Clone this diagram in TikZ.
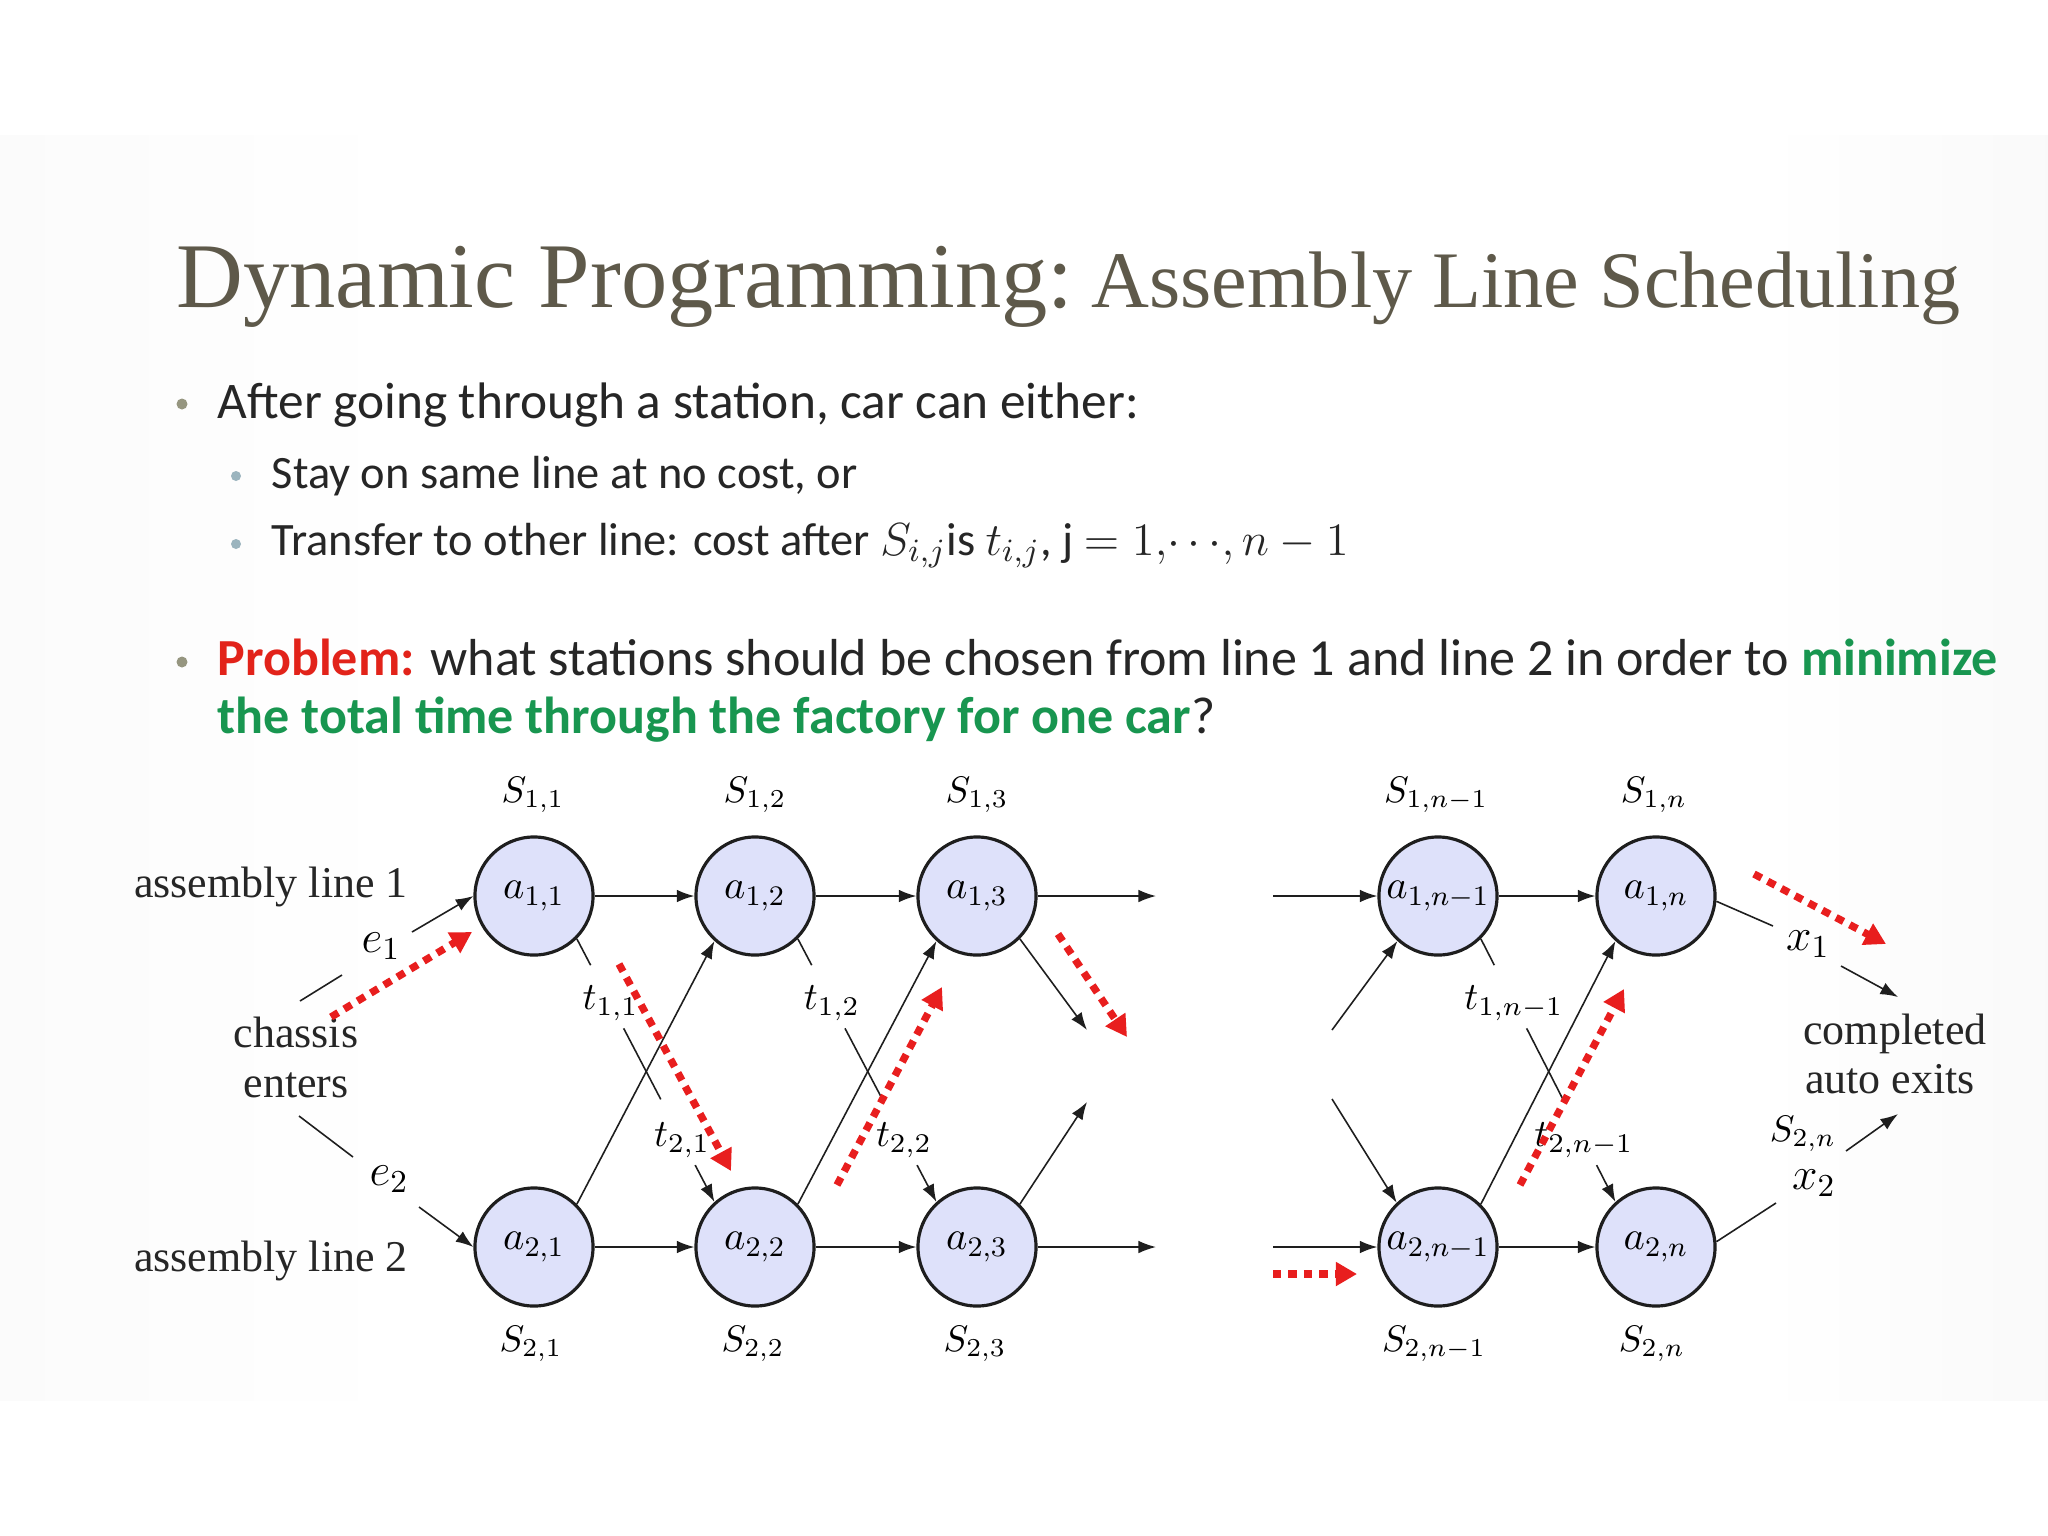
\RequirePackage{fix-cm}
\documentclass[tikz,border=0pt]{standalone}
\usepackage[no-math]{fontspec}
\usetikzlibrary{arrows.meta,calc}
\newfontfamily\bodyfont{Carlito}
\newfontfamily\serfont{Liberation Serif}
\definecolor{titlecol}{RGB}{94,89,74}
\definecolor{txt}{RGB}{38,38,38}
\definecolor{bulA}{RGB}{150,150,128}
\definecolor{bulB}{RGB}{155,180,190}
\definecolor{probred}{RGB}{226,35,26}
\definecolor{mingreen}{RGB}{24,150,80}
\definecolor{nodefill}{RGB}{222,225,250}
\definecolor{dotred}{RGB}{232,30,30}
\definecolor{linecol}{RGB}{30,30,30}
\pgfdeclarehorizontalshading{panelsh}{100bp}{color(0bp)=(black!16); color(8bp)=(black!9); color(22bp)=(black!2); color(35bp)=(white); color(68bp)=(white); color(84bp)=(black!5); color(100bp)=(black!14)}
\tikzset{
  stn/.style={circle, draw=linecol, line width=0.9pt, fill=nodefill, minimum size=1.18cm, inner sep=0pt, font=\fontsize{11.5}{13}\selectfont},
  ar/.style={-{Latex[length=5pt,width=3.6pt]}, line width=0.45pt, linecol},
  ln/.style={line width=0.45pt, linecol},
  reddot/.style={dotred, line width=2.1pt, dash pattern=on 2.4pt off 2pt, -{Triangle[length=6pt,width=6.5pt]}},
  slab/.style={inner sep=0pt, font=\fontsize{10.5}{12}\selectfont},
  tlab/.style={inner sep=0pt, font=\fontsize{11}{13}\selectfont},
  elab/.style={inner sep=0pt, font=\fontsize{13}{15}\selectfont},
  txtlab/.style={inner sep=0pt, anchor=base, font=\serfont\fontsize{12.5}{15}\selectfont, text=black!85},
  body/.style={inner sep=0pt, anchor=base west, text=txt, font=\bodyfont\fontsize{14.6}{17}\selectfont},
  bodyb/.style={inner sep=0pt, anchor=base west, text=txt, font=\bodyfont\fontsize{14.8}{17}\selectfont},
  sub/.style={inner sep=0pt, anchor=base west, text=txt, font=\bodyfont\fontsize{13.2}{16}\selectfont},
}
% broken transfer line: #1 from anchor, #2 to anchor, #3 #4 labels, #5 #6 label names
\newcommand\xferline[6]{%
  \draw[ln] (#1) -- ($(#1)!0.10!(#2)$);
  \node[tlab] (#5) at ($(#1)!0.245!(#2)$) {#3};
  \draw[ln] ($(#1)!0.34!(#2)$) -- ($(#1)!0.61!(#2)$);
  \node[tlab] (#6) at ($(#1)!0.765!(#2)$) {#4};
  \draw[ar] ($(#1)!0.86!(#2)$) -- (#2);
}
\begin{document}
\begin{tikzpicture}[x=0.01cm,y=-0.01cm]
\useasboundingbox (0,0) rectangle (2048,1536);
\fill[white] (0,0) rectangle (2048,1536);
\shade[shading=panelsh] (0,135) rectangle (2048,1400);

% title
\node[anchor=base west, inner sep=0pt, text=titlecol] (title) at (176,307)
  {\serfont\fontsize{26.3}{30}\selectfont Dynamic Programming:\hspace{0.2em}\fontsize{22.8}{27}\selectfont Assembly Line Scheduling};

% bullets
\fill[bulA] (182,404) circle (5.5);
\fill[bulB] (236,476) circle (5);
\fill[bulB] (236,544) circle (5);
\fill[bulA] (182,662) circle (5.5);
\node[body] (b1) at (217,418) {After going through a station, car can either:};
\node[sub] (b2) at (271,488) {Stay on same line at no cost, or};
\node[sub] (b3) at (271,555) {Transfer to other line: cost after $S_{i,j}$is $t_{i,j}$, j $=1,\!\cdots\!,n-1$};
\node[bodyb] (b4) at (217,675) {\textcolor{probred}{\bfseries Problem:} what stations should be chosen from line 1 and line 2 in order to \textcolor{mingreen}{\bfseries minimize}};
\node[bodyb] (b5) at (217,733) {\textcolor{mingreen}{\bfseries the total time through the factory for one car}?};

% stations
\node[stn] (a11) at (534,896) {$a_{1,1}$};
\node[stn] (a12) at (755,896) {$a_{1,2}$};
\node[stn] (a13) at (977,896) {$a_{1,3}$};
\node[stn] (a1m) at (1438,896) {$a_{1,n-1}$};
\node[stn] (a1n) at (1656,896) {$a_{1,n}$};
\node[stn] (a21) at (534,1247) {$a_{2,1}$};
\node[stn] (a22) at (755,1247) {$a_{2,2}$};
\node[stn] (a23) at (977,1247) {$a_{2,3}$};
\node[stn] (a2m) at (1438,1247) {$a_{2,n-1}$};
\node[stn] (a2n) at (1656,1247) {$a_{2,n}$};

% station names
\node[slab] (s11) at (533,795) {$S_{1,1}$};
\node[slab] (s12) at (755,795) {$S_{1,2}$};
\node[slab] (s13) at (977,795) {$S_{1,3}$};
\node[slab] (s1m) at (1436,795) {$S_{1,n-1}$};
\node[slab] (s1n) at (1654,795) {$S_{1,n}$};
\node[slab] (s21) at (531,1344) {$S_{2,1}$};
\node[slab] (s22) at (753,1344) {$S_{2,2}$};
\node[slab] (s23) at (975,1344) {$S_{2,3}$};
\node[slab] (s2m) at (1434,1344) {$S_{2,n-1}$};
\node[slab] (s2n) at (1652,1344) {$S_{2,n}$};

% horizontal flow
\coordinate (o13) at (1156,896);
\coordinate (o23) at (1156,1247);
\coordinate (i1m) at (1273,896);
\coordinate (i2m) at (1273,1247);
\draw[ar] (a11) -- (a12);
\draw[ar] (a12) -- (a13);
\draw[ar] (a13) -- (o13);
\draw[ar] (i1m) -- (a1m);
\draw[ar] (a1m) -- (a1n);
\draw[ar] (a21) -- (a22);
\draw[ar] (a22) -- (a23);
\draw[ar] (a23) -- (o23);
\draw[ar] (i2m) -- (a2m);
\draw[ar] (a2m) -- (a2n);

% transfers
\xferline{a11.-45}{a22.132}{$t_{1,1}$}{$t_{2,1}$}{t11}{t21}
\xferline{a12.-45}{a23.132}{$t_{1,2}$}{$t_{2,2}$}{t12}{t22}
\xferline{a1m.-45}{a2n.132}{$t_{1,n-1}$}{$t_{2,n-1}$}{t1m}{t2m}
\draw[ar] (a21.45) -- (a12.-132);
\draw[ar] (a22.45) -- (a13.-132);
\draw[ar] (a2m.45) -- (a1n.-132);
\coordinate (d13) at (1087,1030);
\coordinate (u23) at (1087,1102);
\coordinate (f1m) at (1332,1030);
\coordinate (f2m) at (1332,1099);
\draw[ar] (a13.-45) -- (d13);
\draw[ar] (a23.45) -- (u23);
\draw[ar] (f1m) -- (a1m.-132);
\draw[ar] (f2m) -- (a2m.133);

% entry
\node[txtlab] (al1) at (271,897) {assembly line 1};
\node[txtlab] (al2) at (271,1271) {assembly line 2};
\node[txtlab] (ch1) at (296,1047) {chassis};
\node[txtlab] (ch2) at (296,1097) {enters};
\node[elab] (e1) at (381,946) {$e_1$};
\node[elab] (e2) at (389,1179) {$e_2$};
\coordinate (c1a) at (300,1001);
\coordinate (c1b) at (342,975);
\coordinate (e1a) at (412,932);
\coordinate (c2a) at (299,1116);
\coordinate (c2b) at (353,1157);
\coordinate (e2a) at (419,1207);
\draw[ln] (c1a) -- (c1b);
\draw[ar] (e1a) -- (a11.west);
\draw[ln] (c2a) -- (c2b);
\draw[ar] (e2a) -- (a21.west);

% exit
\node[elab] (x1) at (1808,944) {$x_1$};
\node[elab] (x2) at (1814,1183) {$x_2$};
\node[slab] (s2nb) at (1803,1134) {$S_{2,n}$};
\node[txtlab] (cp1) at (1895,1044) {completed};
\node[txtlab] (cp2) at (1890,1093) {auto exits};
\coordinate (x1a) at (1773,926);
\coordinate (x1b) at (1841,966);
\coordinate (x1c) at (1898,997);
\coordinate (x2a) at (1776,1203);
\coordinate (x2b) at (1846,1151);
\coordinate (x2c) at (1898,1114);
\draw[ln] (a1n.-5) -- (x1a);
\draw[ar] (x1b) -- (x1c);
\draw[ln] (a2n.5) -- (x2a);
\draw[ar] (x2b) -- (x2c);

% red dotted path
\coordinate (r1s) at (331,1017); \coordinate (r1e) at (472,932);
\coordinate (r2s) at (619,964);  \coordinate (r2e) at (731,1171);
\coordinate (r3s) at (837,1185); \coordinate (r3e) at (942,987);
\coordinate (r4s) at (1058,934); \coordinate (r4e) at (1127,1037);
\coordinate (r5s) at (1520,1185); \coordinate (r5e) at (1624,989);
\coordinate (r6s) at (1754,874); \coordinate (r6e) at (1886,944);
\coordinate (r7s) at (1273,1274); \coordinate (r7e) at (1357,1274);
\draw[reddot] (r1s) -- (r1e);
\draw[reddot] (r2s) -- (r2e);
\draw[reddot] (r3s) -- (r3e);
\draw[reddot] (r4s) -- (r4e);
\draw[reddot] (r5s) -- (r5e);
\draw[reddot] (r6s) -- (r6e);
\draw[reddot] (r7s) -- (r7e);
\end{tikzpicture}
\end{document}
